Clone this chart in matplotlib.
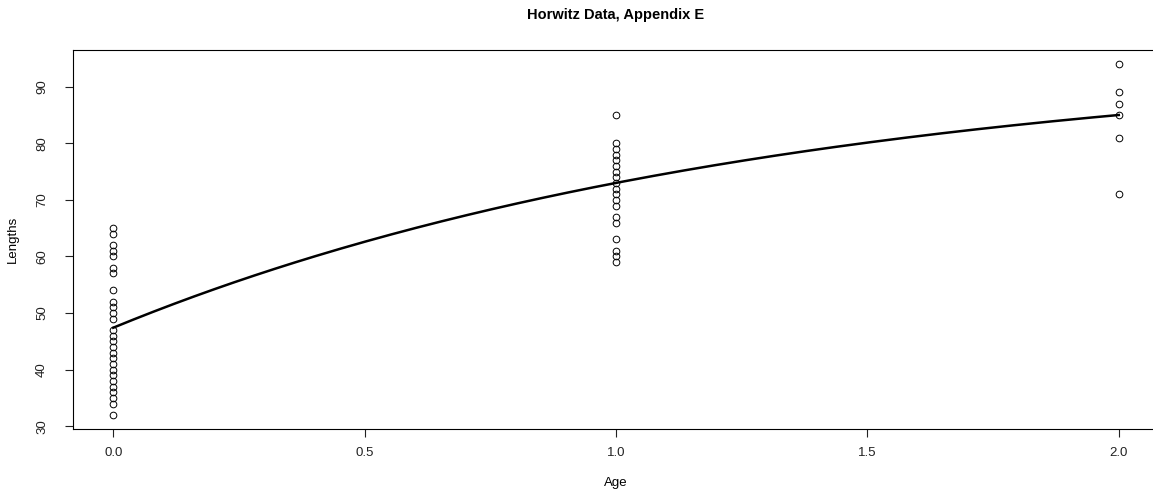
import numpy as np
import matplotlib
matplotlib.use("Agg")
import matplotlib.pyplot as plt

plt.rcParams['font.family'] = ['Liberation Sans', 'DejaVu Sans']

# Observed lengths by age
age0_lengths = [65, 64, 62, 61, 60, 58, 57, 54, 52, 51, 50, 49, 47, 46, 45,
                44, 43, 42, 41, 40, 39, 38, 37, 36, 35, 34, 32]
age1_lengths = [85, 80, 79, 78, 77, 76, 75, 74, 73, 72, 71, 70, 69, 67, 66,
                63, 61, 60, 59]
age2_lengths = [94, 89, 87, 85, 81, 71]

# Fitted von Bertalanffy growth parameters
Linf = 95.6
K = 0.757
t0 = -0.905

x_ticks = [0.0, 0.5, 1.0, 1.5, 2.0]
y_ticks = [30, 40, 50, 60, 70, 80, 90]

ages = np.concatenate([np.full(len(age0_lengths), 0.0),
                       np.full(len(age1_lengths), 1.0),
                       np.full(len(age2_lengths), 2.0)])
lengths = np.array(age0_lengths + age1_lengths + age2_lengths, dtype=float)

fig = plt.figure(figsize=(11.53, 4.91), dpi=100)
ax = fig.add_axes([73 / 1153, 62 / 491, 1086 / 1153, 379 / 491])

ax.plot(ages, lengths, linestyle='none', marker='o', markersize=4.8,
        markerfacecolor='none', markeredgecolor='black', markeredgewidth=0.7)

t = np.linspace(0, 2, 200)
ax.plot(t, Linf * (1 - np.exp(-K * (t - t0))), color='black', linewidth=1.8)

xr = ages.max() - ages.min()
yr = lengths.max() - lengths.min()
ax.set_xlim(ages.min() - 0.04 * xr, ages.max() + 0.04 * xr)
ax.set_ylim(lengths.min() - 0.04 * yr, lengths.max() + 0.04 * yr)

ax.set_xticks(x_ticks)
ax.set_xticklabels([f"{v:.1f}" for v in x_ticks])
ax.set_yticks(y_ticks)
ax.set_yticklabels([str(v) for v in y_ticks], rotation=90, va='center')
ax.tick_params(direction='out', length=6, width=0.8, labelsize=9.5,
               colors='#222222', pad=7)
ax.tick_params(axis='y', pad=12)
for s in ax.spines.values():
    s.set_linewidth(0.8)

ax.set_xlabel("Age", fontsize=9.5, labelpad=13)
ax.set_ylabel("Lengths", fontsize=9.5, labelpad=12)
ax.set_title("Horwitz Data, Appendix E", fontsize=10.5, fontweight='bold',
             pad=22)

fig.savefig("out.png", dpi=100)
